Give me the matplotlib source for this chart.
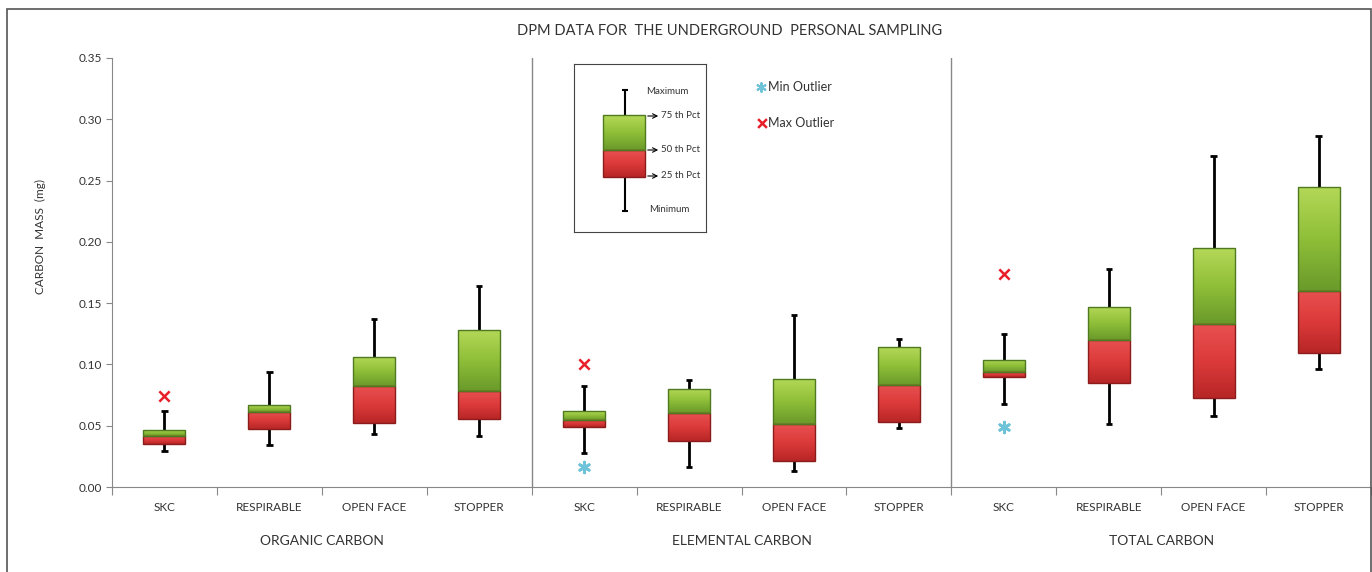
import numpy as np
import matplotlib.pyplot as plt
from matplotlib.colors import LinearSegmentedColormap
from matplotlib.patches import Rectangle

plt.rcParams['font.family'] = ['Lato', 'DejaVu Sans']
plt.rcParams['font.size'] = 8

groups = ['ORGANIC CARBON', 'ELEMENTAL CARBON', 'TOTAL CARBON']
samplers = ['SKC', 'RESPIRABLE', 'OPEN FACE', 'STOPPER']

# per group: SKC, RESPIRABLE, OPEN FACE, STOPPER
v_min = [0.029, 0.034, 0.043, 0.042,
         0.028, 0.016, 0.013, 0.048,
         0.068, 0.051, 0.058, 0.096]
v_q1 = [0.035, 0.047, 0.052, 0.0555,
        0.049, 0.0375, 0.021, 0.053,
        0.090, 0.085, 0.073, 0.109]
v_med = [0.0415, 0.061, 0.082, 0.078,
         0.055, 0.060, 0.051, 0.083,
         0.0935, 0.120, 0.133, 0.160]
v_q3 = [0.0465, 0.0665, 0.106, 0.128,
        0.062, 0.080, 0.088, 0.114,
        0.104, 0.147, 0.195, 0.245]
v_max = [0.062, 0.0935, 0.137, 0.164,
         0.082, 0.087, 0.140, 0.121,
         0.125, 0.178, 0.270, 0.286]

# outliers: (category index, value)
max_out_idx = [0, 4, 8]
max_out_val = [0.074, 0.100, 0.174]
min_out_idx = [4, 8]
min_out_val = [0.016, 0.049]

green_cm = LinearSegmentedColormap.from_list('g', ['#6a9a2a', '#8fbf38', '#b4d858'])
red_cm = LinearSegmentedColormap.from_list('r', ['#b82626', '#dc3a3a', '#e85050'])
grad = np.linspace(0, 1, 64).reshape(-1, 1)


def seg(ax, x, lo, hi, w, cmap, edge):
    b = ax.bar(x, hi - lo, bottom=lo, width=w, color='none', edgecolor=edge,
               linewidth=1.0, zorder=4)[0]
    im = ax.imshow(grad, extent=[x - w / 2, x + w / 2, lo, hi], origin='lower',
                   aspect='auto', cmap=cmap, zorder=3)
    im.set_clip_path(b)


fig = plt.figure(figsize=(13.72, 5.72), dpi=100)
W, H = 1372, 572
ax = fig.add_axes([112 / W, 1 - 487 / H, (1371 - 112) / W, (487 - 58) / H])

x = np.arange(len(v_min))
bw = 0.4
ax.vlines(x, v_min, v_max, color='black', lw=2, zorder=2)
ax.hlines(v_min, x - 0.03, x + 0.03, color='black', lw=2, zorder=2)
ax.hlines(v_max, x - 0.03, x + 0.03, color='black', lw=2, zorder=2)
for i in x:
    seg(ax, i, v_q1[i], v_med[i], bw, red_cm, '#8a1c1c')
    seg(ax, i, v_med[i], v_q3[i], bw, green_cm, '#4f7a1f')

ax.scatter(max_out_idx, max_out_val, marker='x', s=55, color='#e8202a', lw=1.8, zorder=5)
ax.scatter(min_out_idx, min_out_val, marker=(6, 2, 0), s=60, color='#6fc3d8', lw=2, zorder=5)

ax.set_xlim(-0.5, 11.5)
ax.set_ylim(0, 0.35)
ax.set_yticks(np.arange(0, 0.351, 0.05))
ax.set_yticklabels(['%.2f' % t for t in np.arange(0, 0.351, 0.05)], fontsize=8.5, color='#333333')
ax.set_xticks(np.arange(-0.5, 12, 1))
ax.set_xticklabels([])
ax.tick_params(axis='both', colors='#888888', labelcolor='#333333', length=4)
ax.tick_params(axis='x', length=6)
for s in ['top', 'right']:
    ax.spines[s].set_visible(False)
for s in ['left', 'bottom']:
    ax.spines[s].set_color('#888888')
for xs in [3.5, 7.5]:
    ax.axvline(xs, color='#888888', lw=1)

for i in x:
    ax.text(i, -0.017, samplers[i % 4], ha='center', va='center', fontsize=8.5, color='#333333')
for g, name in enumerate(groups):
    ax.text(g * 4 + 1.5, -0.044, name, ha='center', va='center', fontsize=10, color='#333333')

fig.text(730 / W, 1 - 31 / H, 'DPM DATA FOR  THE UNDERGROUND  PERSONAL SAMPLING',
         ha='center', va='center', fontsize=10.5, color='#333333')
fig.text(40 / W, 1 - 236 / H, 'CARBON  MASS  (mg)', rotation=90, ha='center',
         va='center', fontsize=8.5, color='#333333')

# outer chart border
fig.patches.append(Rectangle((7 / W, -0.05), (1371 - 7) / W, 1.05 - 9 / H,
                             transform=fig.transFigure, fill=False,
                             edgecolor='#555555', lw=1.2))

# explanation inset
lx0, ly0, lx1, ly1 = 574, 64, 706, 232
lg = fig.add_axes([lx0 / W, 1 - ly1 / H, (lx1 - lx0) / W, (ly1 - ly0) / H])
lg.set_xticks([])
lg.set_yticks([])
for s in lg.spines.values():
    s.set_color('#444444')
lg.vlines(625, 90, 211, color='black', lw=1.5, zorder=2)
lg.hlines([90, 211], 622, 628, color='black', lw=1.5)
for lo, hi, cm, ec in [(150, 177, red_cm, '#8a1c1c'), (115, 150, green_cm, '#4f7a1f')]:
    b = lg.bar(624, hi - lo, bottom=lo, width=42, color='none', edgecolor=ec, lw=1, zorder=4)[0]
    im = lg.imshow(grad, extent=[603, 645, hi, lo], origin='lower', aspect='auto',
                   cmap=cm, zorder=3)
    im.set_clip_path(b)
lg.set_xlim(lx0, lx1)
lg.set_ylim(ly1, ly0)
for yy, lab in [(116, '75 th Pct'), (150, '50 th Pct'), (176, '25 th Pct')]:
    lg.annotate('', xy=(661, yy), xytext=(645, yy),
                arrowprops=dict(arrowstyle='->', color='black', lw=0.8))
    lg.text(661, yy, lab, ha='left', va='center', fontsize=7, color='#333333')
lg.text(667, 91, 'Maximum', ha='center', va='center', fontsize=7, color='#333333')
lg.text(669, 210, 'Minimum', ha='center', va='center', fontsize=7, color='#333333')

ol = fig.add_axes([740 / W, 1 - 140 / H, 120 / W, 70 / H])
ol.set_xlim(740, 860)
ol.set_ylim(140, 70)
ol.axis('off')
ol.scatter([761], [87], marker=(6, 2, 0), s=40, color='#6fc3d8', lw=1.5)
ol.scatter([762], [123], marker='x', s=40, color='#e8202a', lw=1.8)
ol.text(768, 87, 'Min Outlier', ha='left', va='center', fontsize=9, color='#333333')
ol.text(768, 123, 'Max Outlier', ha='left', va='center', fontsize=9, color='#333333')

fig.savefig('out.png', dpi=100)
